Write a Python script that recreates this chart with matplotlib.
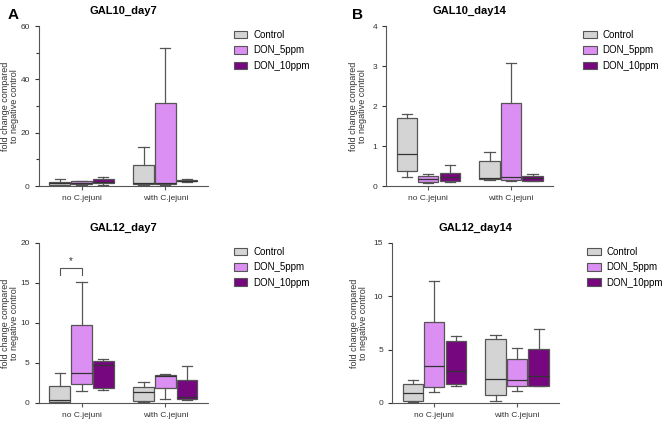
import matplotlib.pyplot as plt
from matplotlib.patches import Patch

plt.rcParams['font.family'] = ['Liberation Sans', 'DejaVu Sans']

groups = ['no C.jejuni', 'with C.jejuni']
treatments = ['Control', 'DON_5ppm', 'DON_10ppm']
colors = ['#d4d4d4', '#dc8ff2', '#76077f']

# five-number summaries per panel: [group][treatment] -> (low, q1, median, q3, high)
gal10_day7 = [
    [(0.3, 0.5, 1.0, 1.6, 2.7), (0.3, 0.6, 1.2, 1.8, 2.0), (0.5, 1.0, 1.5, 2.5, 3.5)],
    [(0.5, 0.9, 1.1, 7.8, 14.8), (0.5, 0.9, 1.3, 31.3, 51.8), (1.6, 1.8, 2.0, 2.3, 2.6)],
]
gal10_day14 = [
    [(0.23, 0.38, 0.79, 1.70, 1.79), (0.07, 0.11, 0.17, 0.25, 0.30), (0.11, 0.13, 0.23, 0.33, 0.53)],
    [(0.15, 0.18, 0.21, 0.62, 0.86), (0.13, 0.15, 0.23, 2.07, 3.07), (0.12, 0.13, 0.19, 0.26, 0.30)],
]
gal12_day7 = [
    [(0.08, 0.13, 0.3, 2.17, 3.75), (1.45, 2.4, 3.75, 9.75, 15.1), (1.55, 1.9, 4.7, 5.3, 5.5)],
    [(0.12, 0.25, 1.33, 2.0, 2.6), (0.54, 1.9, 3.4, 3.5, 3.58), (0.42, 0.54, 0.75, 2.92, 4.67)],
]
gal12_day14 = [
    [(0.1, 0.22, 0.94, 1.78, 2.19), (1.0, 1.47, 3.44, 7.63, 11.47), (1.56, 1.78, 3.03, 5.84, 6.25)],
    [(0.22, 0.75, 2.2, 6.03, 6.4), (1.16, 1.62, 2.1, 4.16, 5.16), (1.6, 1.62, 2.53, 5.1, 6.97)],
]

# title, data, ymax, major step, minor start, axes rect, legend x anchor, ylabel pad
panels = [
    ('GAL10_day7', gal10_day7, 60, 20, 10, [0.058, 0.558, 0.253, 0.380], 1.10, 1),
    ('GAL10_day14', gal10_day14, 4, 1, None, [0.577, 0.558, 0.250, 0.380], 1.125, 4),
    ('GAL12_day7', gal12_day7, 20, 5, None, [0.058, 0.043, 0.253, 0.380], 1.10, 1),
    ('GAL12_day14', gal12_day14, 15, 5, None, [0.586, 0.043, 0.250, 0.380], 1.115, 4),
]

OFFSET = 0.26
WIDTH = 0.245
EDGE = '#555555'
TXT = '#333333'


def draw_panel(fig, title, data, ymax, major, minor, rect, leg_x, ypad):
    ax = fig.add_axes(rect)
    for gi, group_stats in enumerate(data):
        for ti, (lo, q1, med, q3, hi) in enumerate(group_stats):
            pos = gi + (ti - 1) * OFFSET
            stats = [dict(whislo=lo, q1=q1, med=med, q3=q3, whishi=hi, fliers=[])]
            ax.bxp(stats, positions=[pos], widths=WIDTH, patch_artist=True,
                   showfliers=False, capwidths=WIDTH / 2,
                   boxprops=dict(facecolor=colors[ti], edgecolor=EDGE, linewidth=0.9),
                   whiskerprops=dict(color=EDGE, linewidth=0.9),
                   capprops=dict(color=EDGE, linewidth=0.9),
                   medianprops=dict(color='#333333', linewidth=0.9))
    ax.set_xlim(-0.51, 1.51)
    ax.set_ylim(0, ymax)
    ax.set_xticks([0, 1])
    ax.set_xticklabels(groups, fontsize=6, color=TXT)
    ax.set_yticks(range(0, ymax + 1, major))
    if minor:
        ax.set_yticks(range(minor, ymax, major), minor=True)
    ax.tick_params(axis='y', labelsize=6, colors=TXT, length=3, width=0.8)
    ax.tick_params(axis='y', which='minor', length=2, width=0.8, colors=TXT)
    ax.tick_params(axis='x', length=3, width=0.8, colors=EDGE, labelcolor=TXT)
    for s in ['top', 'right']:
        ax.spines[s].set_visible(False)
    ax.spines['left'].set_color(EDGE)
    ax.spines['left'].set_linewidth(0.8)
    ax.spines['bottom'].set_color(EDGE)
    ax.spines['bottom'].set_linewidth(0.8)
    ax.spines['bottom'].set_linestyle((0, (2, 1)))
    ax.set_title(title, fontsize=8, fontweight='bold', pad=9)
    ax.set_ylabel('fold change compared\nto negative control', fontsize=6.5,
                  color=TXT, labelpad=ypad, linespacing=1.0)
    handles = [Patch(facecolor=c, edgecolor=EDGE, linewidth=0.8) for c in colors]
    ax.legend(handles, treatments, loc='upper left', bbox_to_anchor=(leg_x, 1.03),
              frameon=False, fontsize=7, handlelength=1.4, handleheight=0.8,
              labelspacing=0.55, handletextpad=0.6)
    return ax


fig = plt.figure(figsize=(6.69, 4.21), dpi=100)
axes = [draw_panel(fig, *p) for p in panels]

# significance bracket between Control and DON_5ppm (no C.jejuni, GAL12_day7)
ax = axes[2]
x0, x1 = -OFFSET, 0
ax.plot([x0, x0, x1, x1], [16.0, 16.9, 16.9, 16.0], color=EDGE, linewidth=0.8)
ax.text((x0 + x1) / 2, 17.1, '*', ha='center', va='bottom', fontsize=7, color=TXT)

fig.text(0.012, 0.965, 'A', fontsize=11, fontweight='bold', va='center')
fig.text(0.526, 0.965, 'B', fontsize=11, fontweight='bold', va='center')

fig.savefig('out.png', dpi=100)
